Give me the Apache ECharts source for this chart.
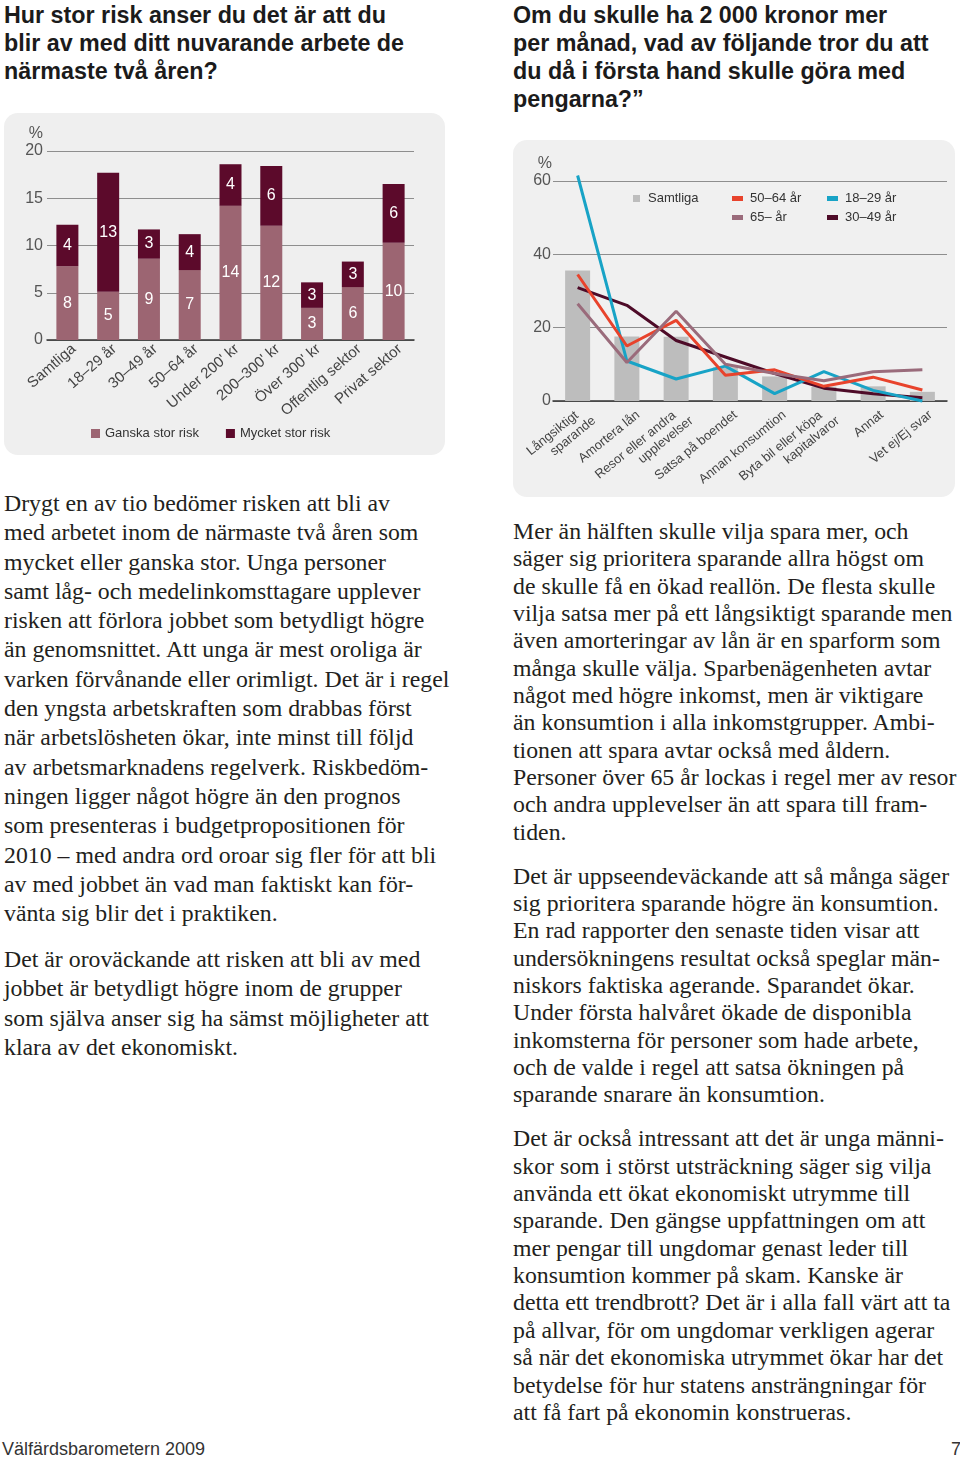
<!DOCTYPE html>
<html>
<head>
<meta charset="utf-8">
<script src="https://cdn.jsdelivr.net/npm/echarts/dist/echarts.min.js"></script>
<style>
  html, body { margin: 0; padding: 0; }
  body { width: 960px; height: 1459px; position: relative; background: #fff; overflow: hidden; }
  .title { position: absolute; font-family: 'Liberation Sans', Arial, sans-serif; font-weight: bold; font-size: 23.3px; line-height: 28px; color: #1b1b1b; white-space: nowrap; }
  .body { position: absolute; font-family: 'Liberation Serif', 'Times New Roman', serif; font-size: 23.8px; color: #231f20; white-space: nowrap; }
  .body.l div { line-height: 29.3px; height: 29.3px; }
  .body.r div { line-height: 27.35px; height: 27.35px; }
  .body .gap.l { height: 16.7px !important; }
  .body .gap.r { height: 16.6px !important; }
  #c1 { position: absolute; left: 4px; top: 113px; width: 441px; height: 342px; background: #efefef; border-radius: 14px; }
  #c2 { position: absolute; left: 513px; top: 140px; width: 442px; height: 357px; background: #f0f0f0; border-radius: 14px; }
  .foot { position: absolute; top: 1438px; font-family: 'Liberation Sans', Arial, sans-serif; font-size: 18px; line-height: 22px; color: #333; white-space: nowrap; }
</style>
</head>
<body>

<div class="title" style="left:4px; top:1px;">
  <div>Hur stor risk anser du det är att du</div>
  <div>blir av med ditt nuvarande arbete de</div>
  <div>närmaste två åren?</div>
</div>

<div class="title" style="left:513px; top:1px;">
  <div>Om du skulle ha 2 000 kronor mer</div>
  <div>per månad, vad av följande tror du att</div>
  <div>du då i första hand skulle göra med</div>
  <div>pengarna?”</div>
</div>

<div id="c1"></div>
<div id="c2"></div>

<div class="body l" style="left:4px; top:489px;">
  <div>Drygt en av tio bedömer risken att bli av</div>
  <div>med arbetet inom de närmaste två åren som</div>
  <div>mycket eller ganska stor. Unga personer</div>
  <div>samt låg- och medelinkomsttagare upplever</div>
  <div>risken att förlora jobbet som betydligt högre</div>
  <div>än genomsnittet. Att unga är mest oroliga är</div>
  <div>varken förvånande eller orimligt. Det är i regel</div>
  <div>den yngsta arbetskraften som drabbas först</div>
  <div>när arbetslösheten ökar, inte minst till följd</div>
  <div>av arbetsmarknadens regelverk. Riskbedöm-</div>
  <div>ningen ligger något högre än den prognos</div>
  <div>som presenteras i budgetpropositionen för</div>
  <div>2010 – med andra ord oroar sig fler för att bli</div>
  <div>av med jobbet än vad man faktiskt kan för-</div>
  <div>vänta sig blir det i praktiken.</div>
  <div class="gap l"></div>
  <div>Det är oroväckande att risken att bli av med</div>
  <div>jobbet är betydligt högre inom de grupper</div>
  <div>som själva anser sig ha sämst möjligheter att</div>
  <div>klara av det ekonomiskt.</div>
</div>

<div class="body r" style="left:513px; top:518px;">
  <div>Mer än hälften skulle vilja spara mer, och</div>
  <div>säger sig prioritera sparande allra högst om</div>
  <div>de skulle få en ökad reallön. De flesta skulle</div>
  <div>vilja satsa mer på ett långsiktigt sparande men</div>
  <div>även amorteringar av lån är en sparform som</div>
  <div>många skulle välja. Sparbenägenheten avtar</div>
  <div>något med högre inkomst, men är viktigare</div>
  <div>än konsumtion i alla inkomstgrupper. Ambi-</div>
  <div>tionen att spara avtar också med åldern.</div>
  <div>Personer över 65 år lockas i regel mer av resor</div>
  <div>och andra upplevelser än att spara till fram-</div>
  <div>tiden.</div>
  <div class="gap r"></div>
  <div>Det är uppseendeväckande att så många säger</div>
  <div>sig prioritera sparande högre än konsumtion.</div>
  <div>En rad rapporter den senaste tiden visar att</div>
  <div>undersökningens resultat också speglar män-</div>
  <div>niskors faktiska agerande. Sparandet ökar.</div>
  <div>Under första halvåret ökade de disponibla</div>
  <div>inkomsterna för personer som hade arbete,</div>
  <div>och de valde i regel att satsa ökningen på</div>
  <div>sparande snarare än konsumtion.</div>
  <div class="gap r"></div>
  <div>Det är också intressant att det är unga männi-</div>
  <div>skor som i störst utsträckning säger sig vilja</div>
  <div>använda ett ökat ekonomiskt utrymme till</div>
  <div>sparande. Den gängse uppfattningen om att</div>
  <div>mer pengar till ungdomar genast leder till</div>
  <div>konsumtion kommer på skam. Kanske är</div>
  <div>detta ett trendbrott? Det är i alla fall värt att ta</div>
  <div>på allvar, för om ungdomar verkligen agerar</div>
  <div>så när det ekonomiska utrymmet ökar har det</div>
  <div>betydelse för hur statens ansträngningar för</div>
  <div>att få fart på ekonomin konstrueras.</div>
</div>

<div class="foot" style="left:2px;">Välfärdsbarometern 2009</div>
<div class="foot" style="left:951px;">7</div>

<script>
// ---- Chart 1 data: risk of losing job ----
const riskCategories = ['Samtliga', '18–29 år', '30–49 år', '50–64 år', "Under 200' kr", "200–300' kr", "Över 300' kr", 'Offentlig sektor', 'Privat sektor'];
const ganskaStorRisk = [7.8, 5.1, 8.6, 7.4, 14.2, 12.1, 3.4, 5.6, 10.3];
const mycketStorRisk = [4.4, 12.6, 3.1, 3.8, 4.4, 6.3, 2.7, 2.7, 6.2];
const riskSeriesNames = ['Ganska stor risk', 'Mycket stor risk'];
const riskTicks = { min: 0, max: 20, interval: 5 };

// ---- Chart 2 data: use of 2 000 kr more per month ----
const useCategories = ['Långsiktigt\nsparande', 'Amortera lån', 'Resor eller andra\nupplevelser', 'Satsa på boendet', 'Annan konsumtion', 'Byta bil eller köpa\nkapitalvaror', 'Annat', 'Vet ej/Ej svar'];
const samtliga = [35.6, 17.6, 17.5, 9.2, 6.7, 3.9, 4.0, 2.5];
const age5064 = [34.5, 15.0, 22.0, 7.0, 8.5, 4.0, 6.5, 3.0];
const age65 = [26.5, 10.5, 24.5, 10.0, 7.5, 5.5, 8.0, 8.5];
const age1829 = [61.5, 10.9, 6.0, 9.5, 2.0, 8.0, 2.9, 0.0];
const age3049 = [30.9, 26.1, 16.5, 12.0, 7.5, 3.5, 2.0, 0.9];
const useTicks = { min: 0, max: 60, interval: 20 };

const FONT = "'Liberation Sans', Arial, sans-serif";

// ---------------- Chart 1 ----------------
const c1 = echarts.init(document.getElementById('c1'), null, { renderer: 'canvas' });
const g1 = { top: 38, bottom: 115, left: 43, width: 367 };
c1.setOption({
  animation: false,
  backgroundColor: 'transparent',
  textStyle: { fontFamily: FONT },
  grid: [
    { left: g1.left, width: g1.width, top: g1.top, bottom: g1.bottom },
    { left: g1.left + 6.5, width: g1.width, top: g1.top, bottom: g1.bottom }
  ],
  legend: {
    left: 87, top: 314, padding: 0, itemWidth: 9, itemHeight: 9, itemGap: 27, icon: 'rect',
    textStyle: { fontSize: 13, color: '#333', fontFamily: FONT },
    data: riskSeriesNames
  },
  xAxis: [
    {
      type: 'category', data: riskCategories, gridIndex: 0,
      axisTick: { show: false },
      axisLine: { lineStyle: { color: '#333', width: 1.5 } },
      axisLabel: { show: false }
    },
    {
      type: 'category', data: riskCategories, gridIndex: 1,
      axisTick: { show: false }, axisLine: { show: false }, splitLine: { show: false },
      axisLabel: { rotate: 41, margin: 7, fontSize: 15, color: '#444', interval: 0 }
    }
  ],
  yAxis: [
    {
      type: 'value', gridIndex: 0, min: riskTicks.min, max: riskTicks.max, interval: riskTicks.interval,
      name: '%', nameGap: 9,
      nameTextStyle: { align: 'right', fontSize: 16, color: '#555', padding: [0, 4, 0, 0] },
      axisLabel: { fontSize: 16, color: '#555', margin: 4 },
      axisLine: { show: false }, axisTick: { show: false },
      splitLine: { lineStyle: { color: '#8e8e8e', width: 1 } }
    },
    { type: 'value', gridIndex: 1, min: riskTicks.min, max: riskTicks.max, show: false }
  ],
  series: [
    {
      name: riskSeriesNames[0], type: 'bar', stack: 'risk', barWidth: 22,
      xAxisIndex: 0, yAxisIndex: 0,
      data: ganskaStorRisk,
      itemStyle: { color: '#9c6572' },
      label: { show: true, position: 'inside', color: '#fff', fontSize: 16, formatter: p => Math.round(p.value) }
    },
    {
      name: riskSeriesNames[1], type: 'bar', stack: 'risk', barWidth: 22,
      xAxisIndex: 0, yAxisIndex: 0,
      data: mycketStorRisk,
      itemStyle: { color: '#5c0a2b' },
      label: { show: true, position: 'inside', color: '#fff', fontSize: 16, formatter: p => Math.round(p.value) }
    }
  ]
});

// ---------------- Chart 2 ----------------
const c2 = echarts.init(document.getElementById('c2'), null, { renderer: 'canvas' });
const g2 = { top: 41, bottom: 96, left: 40, width: 394 };
const lineSeries = (name, data, color) => ({
  name, type: 'line', data, symbol: 'none', smooth: false, clip: false,
  xAxisIndex: 0, yAxisIndex: 0,
  lineStyle: { color, width: 3 }, itemStyle: { color }
});
const legendText = (pad) => ({ fontSize: 13, color: '#333', padding: [0, 0, 0, pad], lineHeight: 15, fontFamily: FONT });
c2.setOption({
  animation: false,
  backgroundColor: 'transparent',
  textStyle: { fontFamily: FONT },
  grid: [
    { left: g2.left, width: g2.width, top: g2.top, bottom: g2.bottom },
    { left: g2.left + 12, width: g2.width, top: g2.top, bottom: g2.bottom }
  ],
  legend: [
    { left: 120, top: 51, padding: 0, orient: 'vertical', itemWidth: 7, itemHeight: 7, icon: 'rect',
      textStyle: legendText(3), data: ['Samtliga'] },
    { left: 219, top: 51, padding: 0, orient: 'vertical', itemWidth: 11, itemHeight: 5, itemGap: 4, icon: 'rect',
      textStyle: legendText(2), data: ['50–64 år', '65– år'] },
    { left: 314, top: 51, padding: 0, orient: 'vertical', itemWidth: 11, itemHeight: 5, itemGap: 4, icon: 'rect',
      textStyle: legendText(2), data: ['18–29 år', '30–49 år'] }
  ],
  xAxis: [
    {
      type: 'category', data: useCategories, gridIndex: 0,
      axisTick: { show: false },
      axisLine: { lineStyle: { color: '#333', width: 1.5 } },
      axisLabel: { show: false }
    },
    {
      type: 'category', data: useCategories, gridIndex: 1,
      axisTick: { show: false }, axisLine: { show: false }, splitLine: { show: false },
      axisLabel: {
        rotate: 39, margin: 16, interval: 0,
        formatter: v => {
          const parts = v.split('\n');
          return parts.length > 1 ? '{a|' + parts[0] + '}\n{b|' + parts[1] + '}' : '{b|' + v + '}';
        },
        rich: {
          a: { fontSize: 13, color: '#444', lineHeight: 15, padding: [0, 10, 0, 0], fontFamily: FONT },
          b: { fontSize: 13, color: '#444', lineHeight: 15, fontFamily: FONT }
        }
      }
    }
  ],
  yAxis: [
    {
      type: 'value', gridIndex: 0, min: useTicks.min, max: useTicks.max, interval: useTicks.interval,
      name: '%', nameGap: 9,
      nameTextStyle: { align: 'right', fontSize: 16, color: '#555', padding: [0, 1, 0, 0] },
      axisLabel: { fontSize: 16, color: '#555', margin: 2 },
      axisLine: { show: false }, axisTick: { show: false },
      splitLine: { lineStyle: { color: '#8e8e8e', width: 1 } }
    },
    { type: 'value', gridIndex: 1, min: useTicks.min, max: useTicks.max, show: false }
  ],
  series: [
    { name: 'Samtliga', type: 'bar', data: samtliga, barWidth: 25, xAxisIndex: 0, yAxisIndex: 0, itemStyle: { color: '#bdbdbd' } },
    lineSeries('30–49 år', age3049, '#4e0b28'),
    lineSeries('18–29 år', age1829, '#18a3c6'),
    lineSeries('50–64 år', age5064, '#e8432c'),
    lineSeries('65– år', age65, '#9a6b7b')
  ]
});
</script>
</body>
</html>
